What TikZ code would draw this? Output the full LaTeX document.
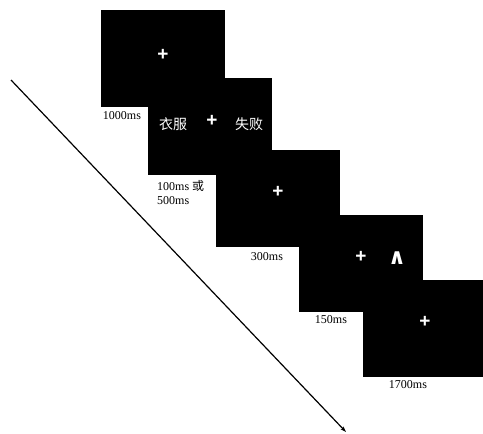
\documentclass[tikz,border=0pt]{standalone}
\usepackage{fontspec}
\setmainfont{Liberation Serif}
\newfontfamily\cjk{Noto Sans CJK SC}
\newfontfamily\signfont{Liberation Sans}
\newfontfamily\symfont{DejaVu Sans}
\usetikzlibrary{arrows.meta}

\tikzset{
  screen/.style={fill=black, inner sep=0pt, minimum width=124pt, minimum height=97pt},
  sign/.style={text=white, font=\signfont\bfseries\fontsize{19}{19}\selectfont, inner sep=0pt},
  word/.style={text=white, font=\cjk\fontsize{14}{14}\selectfont, inner sep=0pt},
  dur/.style={font=\fontsize{12}{14}\selectfont, inner sep=0pt}
}

\begin{document}
\begin{tikzpicture}[x=1pt, y=-1pt]
    \useasboundingbox (0,0) rectangle (483,434);
    % screens
    \node[screen] (s1) at (163,58.5) {};
    \node[screen] (s2) at (210,126) {};
    \node[screen] (s3) at (278,198.5) {};
    \node[screen] (s4) at (361,263.5) {};
    \node[screen, minimum width=120pt] (s5) at (423,328) {};
    % stimuli
    \node[sign] (p1) at (163,55) {+};
    \node[word] (w1) at (173,124) {衣服};
    \node[sign] (p2) at (212,121) {+};
    \node[word] (w2) at (249,124) {失败};
    \node[sign] (p3) at (278,192) {+};
    \node[sign] (p4) at (361,257) {+};
    \node[text=white, font=\symfont\bfseries\fontsize{22}{22}\selectfont, inner sep=0pt] (t4) at (397,258) {∧};
    \node[sign] (p5) at (425,322) {+};
    % durations
    \node[dur] (d1) at (122,116) {1000ms};
    \node[dur, align=left, anchor=north west] (d2) at (157,180) {100ms {\cjk 或}\\500ms};
    \node[dur] (d3) at (267,257) {300ms};
    \node[dur] (d4) at (331,320) {150ms};
    \node[dur] (d5) at (408,385) {1700ms};
    % time axis
    \coordinate (t0) at (11,80);
    \coordinate (t1) at (346,432);
    \draw[line width=1.2pt, -{Stealth[length=6pt, width=4pt]}] (t0) -- (t1);
\end{tikzpicture}
\end{document}
